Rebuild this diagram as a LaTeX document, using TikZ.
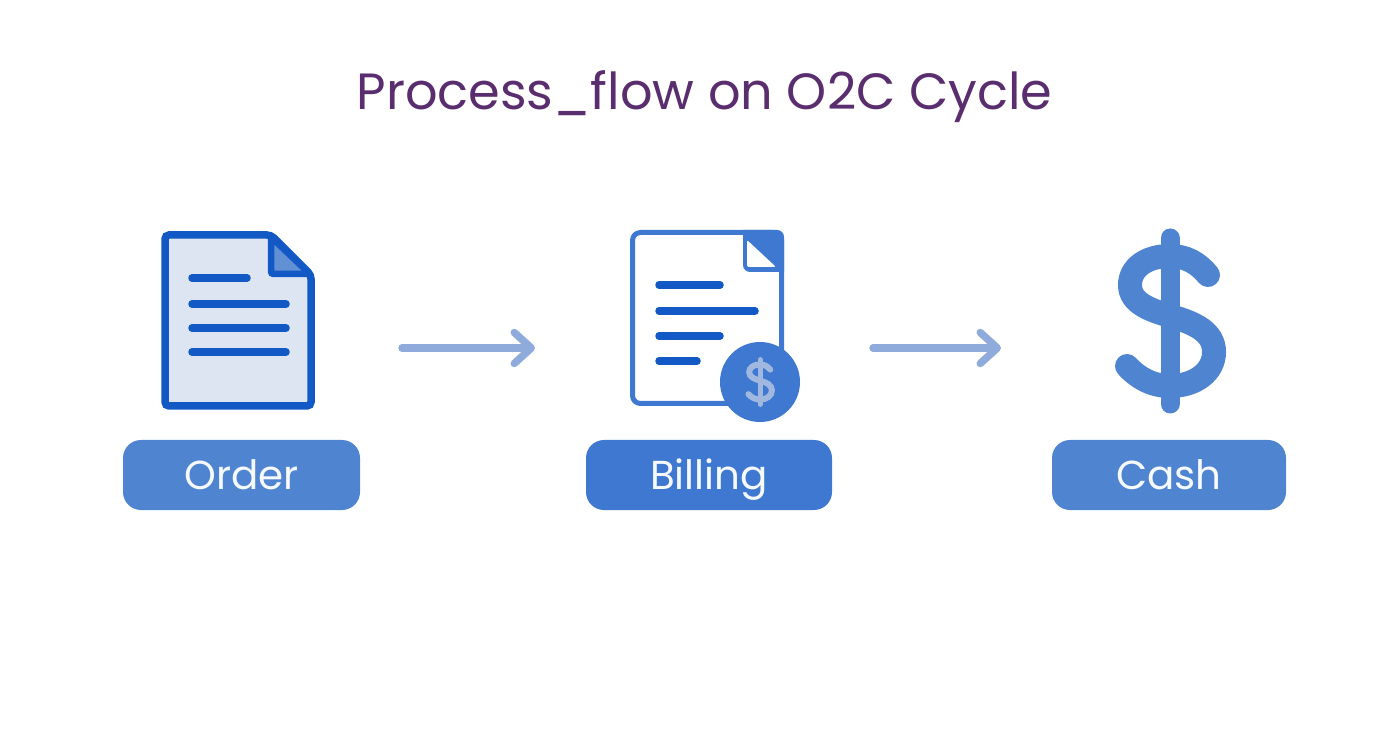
\documentclass[tikz,border=0pt]{standalone}
\usepackage{fontspec}
\setmainfont{Poppins}
\usepackage{xcolor}
\usetikzlibrary{arrows.meta}

\definecolor{titlecol}{HTML}{5A2D6E}
\definecolor{deepblue}{HTML}{1259C6}
\definecolor{midblue}{HTML}{3F78D0}
\definecolor{softblue}{HTML}{4F84D0}
\definecolor{paleblue}{HTML}{DCE5F1}
\definecolor{arrowblue}{HTML}{8FABDB}

\newcommand{\dollarcurve}{
  (1208, 275) .. controls (1198, 263) and (1186, 256) .. (1170, 256)
  .. controls (1146, 256) and (1130, 268) .. (1130, 285)
  .. controls (1130, 303) and (1150, 310) .. (1170, 316)
  .. controls (1195, 323) and (1214, 332) .. (1214, 352)
  .. controls (1214, 372) and (1195, 386) .. (1170, 386)
  .. controls (1152, 386) and (1138, 378) .. (1127, 366)
}

\tikzset{
  labelbox/.style={fill=#1, rounded corners=3.6mm, text=white!95!softblue,
    minimum height=14mm, inner sep=0pt, text height=17pt, text depth=0pt,
    font=\fontsize{23}{23}\selectfont},
  textline/.style={line width=1.5mm, line cap=round, deepblue},
  flowarrow/.style={line width=1.5mm, line cap=round, arrowblue,
    -{Straight Barb[round, length=3.4mm, width=6.2mm]}},
}

\begin{document}
\begin{tikzpicture}[x=0.2mm, y=-0.2mm]
  \useasboundingbox (0, 0) rectangle (1392, 752);

  \node[anchor=base, text=titlecol, font=\fontsize{29}{29}\selectfont] (title) at (704.5, 110) {Process\_flow on O2C Cycle};

  % Order icon
  \draw[line width=1.5mm, deepblue, fill=paleblue, rounded corners=0.8mm]
    (165, 235) -- (271, 235) -- (311, 275) -- (311, 406) -- (165, 406) -- cycle;
  \draw[line width=1.3mm, deepblue, fill=softblue!90!white, rounded corners=0.5mm]
    (271, 237) -- (271, 274) -- (310, 274) -- cycle;
  \draw[textline] (192, 278) -- (247, 278);
  \foreach \y in {304, 328, 352} {
    \draw[textline] (192, \y) -- (286, \y);
  }

  % Billing icon
  \draw[line width=1mm, midblue, fill=white, rounded corners=1.6mm]
    (632.5, 232.5) rectangle (781.5, 403.5);
  \fill[midblue] (743, 230) [rounded corners=1.4mm] -- (784, 230) [sharp corners] -- (784, 272)
    [rounded corners=1.4mm] -- (743, 272) [sharp corners] -- cycle;
  \fill[white, rounded corners=0.4mm] (747, 240) -- (776, 267) -- (747, 267) -- cycle;
  \draw[textline] (659, 285) -- (720, 285);
  \draw[textline] (659, 311) -- (755, 311);
  \draw[textline] (659, 336) -- (720, 336);
  \draw[textline] (659, 361) -- (697, 361);
  \node[circle, fill=midblue, minimum size=16mm, inner sep=0pt] (coin) at (760, 382) {};
  \begin{scope}[shift={(760, 382)}, scale=0.27, shift={(-1170, -321)}]
    \draw[line width=1.2mm, line cap=round, arrowblue!85!white] \dollarcurve;
    \draw[line width=1mm, line cap=round, arrowblue!85!white] (1170, 238) -- (1170, 404);
  \end{scope}

  % Cash icon
  \draw[line width=4.8mm, line cap=round, softblue] \dollarcurve;
  \draw[line width=3.8mm, line cap=round, softblue] (1170, 238) -- (1170, 404);

  % Labels
  \node[labelbox=softblue, minimum width=47.4mm] (order) at (241.5, 475) {Order};
  \node[labelbox=midblue, minimum width=49.2mm] (billing) at (709, 475) {Billing};
  \node[labelbox=softblue, minimum width=46.8mm] (cash) at (1169, 475) {Cash};

  % Arrows
  \coordinate (orderout) at (402, 348);
  \coordinate (billingin) at (535, 348);
  \coordinate (billingout) at (873, 348);
  \coordinate (cashin) at (1001, 348);
  \draw[flowarrow] (orderout) -- (billingin);
  \draw[flowarrow] (billingout) -- (cashin);
\end{tikzpicture}
\end{document}
